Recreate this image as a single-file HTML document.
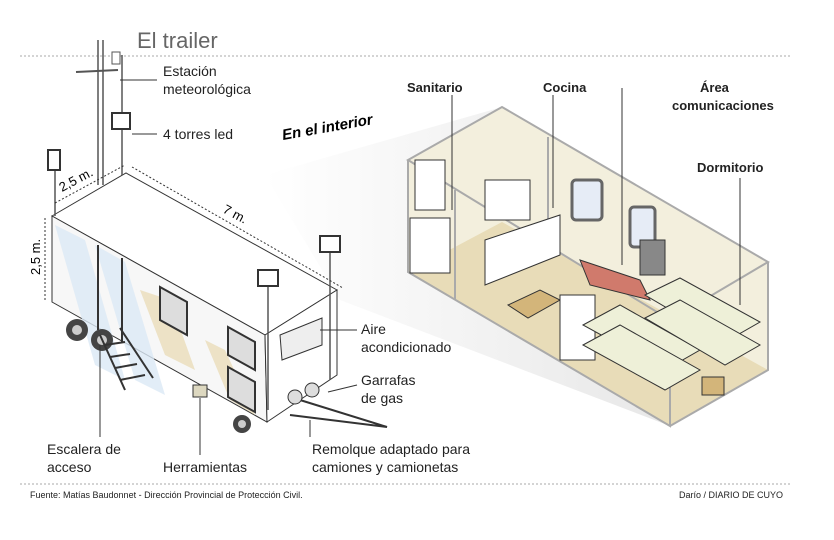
<!DOCTYPE html>
<html><head><meta charset="utf-8"><style>
body{margin:0;background:#fff;}
svg{display:block;font-family:"Liberation Sans",sans-serif;}
</style></head><body>
<svg width="834" height="540" viewBox="0 0 834 540" xmlns="http://www.w3.org/2000/svg">
<defs>
<linearGradient id="wedge" x1="0" y1="0" x2="1" y2="0">
<stop offset="0" stop-color="#fff"/><stop offset="1" stop-color="#ddd"/></linearGradient>
</defs>
<text x="137" y="48" font-size="22" fill="#666">El trailer</text>
<line x1="20" y1="56" x2="792" y2="56" stroke="#aaa" stroke-dasharray="2,2"/>
<line x1="20" y1="484" x2="792" y2="484" stroke="#aaa" stroke-dasharray="2,2"/>
<!-- wedge -->
<polygon points="265,175 502,107 670,426 340,300" fill="url(#wedge)" opacity="0.7"/>
<!-- room -->
<polygon points="408,160 502,107 768,262 768,370 670,426 408,272" fill="#f3efdd"/>
<polygon points="408,272 502,222 768,370 670,426" fill="#e8dcb8"/>
<polygon points="408,160 502,107 768,262 670,320" fill="none" stroke="#aaa" stroke-width="2"/>
<polyline points="408,160 408,272 670,426 670,320" fill="none" stroke="#aaa" stroke-width="2"/>
<polyline points="670,426 768,370 768,262" fill="none" stroke="#aaa" stroke-width="2"/>
<polyline points="455,190 455,300" fill="none" stroke="#aaa" stroke-width="2"/>
<polyline points="548,137 548,250" fill="none" stroke="#aaa" stroke-width="2"/>
<rect x="410" y="218" width="40" height="55" fill="#fff" stroke="#333"/>
<rect x="415" y="160" width="30" height="50" fill="#fff" stroke="#333"/>
<rect x="485" y="180" width="45" height="40" fill="#fff" stroke="#333"/>
<polygon points="485,240 560,215 560,255 485,285" fill="#fff" stroke="#333"/>
<rect x="572" y="180" width="30" height="40" rx="4" fill="#e6ecf6" stroke="#666" stroke-width="3"/>
<rect x="630" y="207" width="25" height="40" rx="4" fill="#e6ecf6" stroke="#666" stroke-width="3"/>
<polygon points="580,260 640,280 650,300 590,285" fill="#d07a6c" stroke="#333"/>
<rect x="640" y="240" width="25" height="35" fill="#888" stroke="#333"/>
<polygon points="508,305 540,290 560,300 528,318" fill="#d3b57a" stroke="#333"/>
<rect x="560" y="295" width="35" height="65" fill="#fff" stroke="#333"/>
<polygon points="583,325 620,305 700,350 665,370" fill="#eef0d8" stroke="#333"/>
<polygon points="583,345 620,325 700,370 665,390" fill="#eef0d8" stroke="#333"/>
<polygon points="645,295 680,278 760,322 725,342" fill="#eef0d8" stroke="#333"/>
<polygon points="645,318 680,300 760,345 725,365" fill="#eef0d8" stroke="#333"/>
<rect x="702" y="377" width="22" height="18" fill="#d3b57a" stroke="#333"/>
<!-- trailer -->
<polygon points="52,216 126,173 337,290 265,335" fill="#fff" stroke="#333"/>
<polygon points="52,216 265,335 267,422 52,302" fill="#f7f7f7" stroke="#333"/>
<polygon points="265,335 337,290 337,375 267,422" fill="#fff" stroke="#333"/>
<polygon points="55,225 85,240 125,380 95,365" fill="#dbe8f5" opacity="0.8"/>
<polygon points="95,245 125,262 165,395 135,380" fill="#dbe8f5" opacity="0.8"/>
<polygon points="140,290 170,300 195,370 165,355" fill="#e8d9b0" opacity="0.7"/>
<polygon points="205,340 225,350 255,415 230,400" fill="#e8d9b0" opacity="0.7"/>
<line x1="98" y1="245" x2="98" y2="330" stroke="#333" stroke-width="2"/>
<line x1="122" y1="258" x2="122" y2="343" stroke="#333" stroke-width="2"/>
<polygon points="160,287 187,302 187,335 160,320" fill="#ddd" stroke="#333" stroke-width="2"/>
<polygon points="228,327 255,342 255,370 228,355" fill="#ddd" stroke="#333" stroke-width="2"/>
<polygon points="228,367 255,382 255,412 228,397" fill="#ddd" stroke="#333" stroke-width="2"/>
<polygon points="280,335 322,318 322,345 282,360" fill="#eee" stroke="#333"/>
<circle cx="77" cy="330" r="11" fill="#444"/><circle cx="77" cy="330" r="5" fill="#ccc"/>
<circle cx="102" cy="340" r="11" fill="#444"/><circle cx="102" cy="340" r="5" fill="#ccc"/>
<circle cx="242" cy="424" r="9" fill="#444"/><circle cx="242" cy="424" r="4" fill="#ccc"/>
<g stroke="#333" stroke-width="2" fill="none">
<line x1="100" y1="335" x2="125" y2="390"/><line x1="120" y1="328" x2="153" y2="378"/>
<line x1="105" y1="345" x2="125" y2="342"/><line x1="110" y1="357" x2="130" y2="354"/>
<line x1="115" y1="368" x2="137" y2="364"/><line x1="120" y1="380" x2="145" y2="375"/>
<polyline points="290,415 387,427 300,400"/>
</g>
<rect x="193" y="385" width="14" height="12" fill="#ddd8c0" stroke="#333"/>
<circle cx="295" cy="397" r="7" fill="#ddd" stroke="#333"/><circle cx="312" cy="390" r="7" fill="#ddd" stroke="#333"/>
<!-- masts -->
<line x1="98" y1="40" x2="98" y2="185" stroke="#555" stroke-width="1.5"/>
<line x1="103" y1="40" x2="103" y2="185" stroke="#555" stroke-width="1.5"/>
<line x1="122" y1="55" x2="122" y2="175" stroke="#555" stroke-width="1.5"/>
<line x1="76" y1="72" x2="118" y2="70" stroke="#555" stroke-width="2"/>
<rect x="112" y="52" width="8" height="12" fill="#fff" stroke="#555"/>
<rect x="112" y="113" width="18" height="16" fill="#fff" stroke="#333" stroke-width="2"/>
<line x1="55" y1="165" x2="55" y2="216" stroke="#555" stroke-width="1.5"/>
<rect x="48" y="150" width="12" height="20" fill="#fff" stroke="#333" stroke-width="2"/>
<line x1="330" y1="245" x2="330" y2="380" stroke="#555" stroke-width="1.5"/>
<rect x="320" y="236" width="20" height="16" fill="#fff" stroke="#333" stroke-width="2"/>
<line x1="268" y1="285" x2="268" y2="410" stroke="#555" stroke-width="1.5"/>
<rect x="258" y="270" width="20" height="16" fill="#fff" stroke="#333" stroke-width="2"/>
<!-- dims -->
<line x1="132" y1="167" x2="343" y2="288" stroke="#333" stroke-dasharray="2,2"/>
<line x1="45" y1="218" x2="45" y2="300" stroke="#333" stroke-dasharray="2,2"/>
<line x1="55" y1="203" x2="125" y2="165" stroke="#333" stroke-dasharray="2,2"/>
<text x="62" y="192" font-size="13" transform="rotate(-28 62 192)">2,5 m.</text>
<text x="222" y="212" font-size="13" transform="rotate(28 222 212)">7 m.</text>
<text x="40" y="275" font-size="13" transform="rotate(-90 40 275)">2,5 m.</text>
<!-- leaders -->
<g stroke="#333" stroke-width="1">
<line x1="120" y1="80" x2="157" y2="80"/><line x1="132" y1="134" x2="157" y2="134"/>
<line x1="320" y1="330" x2="357" y2="330"/><line x1="328" y1="392" x2="357" y2="385"/>
<line x1="100" y1="345" x2="100" y2="437"/><line x1="200" y1="398" x2="200" y2="455"/>
<line x1="310" y1="420" x2="310" y2="437"/>
<line x1="452" y1="95" x2="452" y2="210"/><line x1="553" y1="95" x2="553" y2="208"/>
<line x1="622" y1="88" x2="622" y2="265"/><line x1="740" y1="178" x2="740" y2="305"/>
</g>
<g font-size="14" fill="#222">
<text x="163" y="76">Estación</text><text x="163" y="94">meteorológica</text>
<text x="163" y="139">4 torres led</text>
<text x="361" y="334">Aire</text><text x="361" y="352">acondicionado</text>
<text x="361" y="385">Garrafas</text><text x="361" y="403">de gas</text>
<text x="47" y="454">Escalera de</text><text x="47" y="472">acceso</text>
<text x="163" y="472">Herramientas</text>
<text x="312" y="454">Remolque adaptado para</text><text x="312" y="472">camiones y camionetas</text>
</g>
<text x="283" y="140" font-size="15" font-weight="bold" font-style="italic" transform="rotate(-10 283 140)">En el interior</text>
<g font-size="13" font-weight="bold" fill="#222">
<text x="407" y="92">Sanitario</text><text x="543" y="92">Cocina</text>
<text x="700" y="92">Área</text><text x="672" y="110">comunicaciones</text>
<text x="697" y="172">Dormitorio</text>
</g>
<text x="30" y="498" font-size="9" fill="#222">Fuente: Matías Baudonnet - Dirección Provincial de Protección Civil.</text>
<text x="783" y="498" font-size="9" fill="#222" text-anchor="end">Darío / DIARIO DE CUYO</text>
</svg>
</body></html>
